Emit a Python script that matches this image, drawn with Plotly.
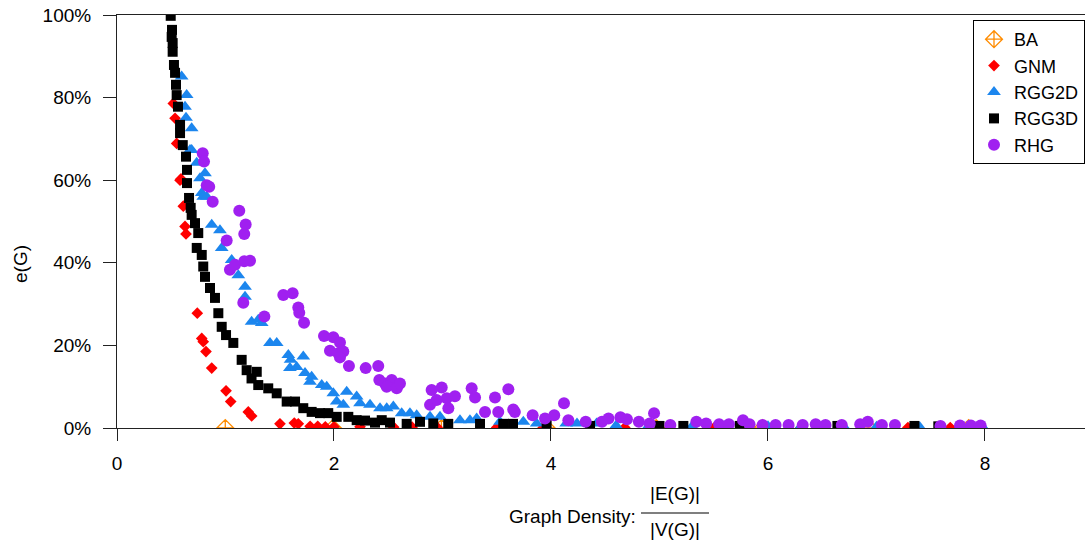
import plotly.graph_objects as go

# ---------------- data (density, e(G) in %) ----------------
ba_x = [0.998, 1.99, 2.99, 3.96, 4.97, 5.95, 6.93, 7.85]
ba_y = [0.0, 0.0, 0.0, 0.0, 0.0, 0.0, 0.0, 0.0]

gnm_x = [0.519, 0.535, 0.550, 0.581, 0.590, 0.611, 0.627, 0.636, 0.740, 0.781,
         0.795, 0.820, 0.873, 1.005, 1.048, 1.210, 1.241, 1.502, 1.634, 1.671,
         1.78, 1.85, 1.92, 2.00, 2.24, 2.55, 2.72, 2.95, 3.50, 3.93,
         4.68, 5.50, 6.30, 7.29, 7.59, 7.68, 7.77]
gnm_y = [78.6, 75.0, 68.9, 60.0, 60.3, 53.7, 48.8, 47.0, 27.8, 21.7,
         20.9, 18.5, 14.5, 9.0, 6.4, 3.9, 2.9, 1.0, 1.2, 1.0,
         0.4, 0.4, 0.3, 0.3, 0.3, 0.2, 0.2, 0.2, 0.1, 0.1,
         0.1, 0.0, 0.0, 0.1, 0.1, 0.1, 0.1]

rgg2d_x = [0.596, 0.642, 0.627, 0.636, 0.688, 0.673, 0.688, 0.735, 0.811, 0.765,
           0.781, 0.795, 0.827, 0.873, 0.949, 0.965, 1.057, 1.118, 1.180, 1.180,
           1.241, 1.302, 1.334, 1.410, 1.472, 1.579, 1.600, 1.717, 1.594, 1.656,
           1.733, 1.794, 1.779, 1.887, 1.933, 1.994, 2.117, 2.025, 2.086, 2.209,
           2.240, 2.332, 2.424, 2.486, 2.547, 2.624, 2.700, 2.762, 2.885, 2.977,
           3.161, 3.253, 3.315, 3.530, 3.745, 3.868, 4.14, 4.24, 4.42, 4.60,
           4.90, 5.30, 5.60, 6.00, 6.30, 6.70, 7.00, 7.40, 7.80, 7.98]
rgg2d_y = [85.1, 80.6, 77.8, 75.1, 72.6, 67.3, 67.3, 64.2, 61.7, 60.5,
           56.9, 56.0, 56.0, 49.2, 47.9, 43.6, 40.7, 37.0, 34.2, 31.8,
           25.7, 26.2, 25.4, 20.6, 20.6, 17.7, 16.5, 17.3, 14.5, 14.8,
           13.3, 12.4, 11.2, 10.4, 10.0, 8.4, 8.8, 6.4, 5.6, 7.6,
           6.0, 5.6, 4.8, 4.8, 5.2, 3.6, 3.6, 3.1, 2.7, 2.7,
           1.9, 1.9, 2.3, 1.5, 1.5, 1.1, 1.1, 1.1, 1.1, 0.6,
           0.5, 0.4, 0.4, 0.4, 0.3, 0.3, 0.3, 0.2, 0.2, 0.2]

rgg3d_x = [0.495, 0.507, 0.504, 0.513, 0.513, 0.525, 0.535, 0.544, 0.550, 0.562,
           0.581, 0.581, 0.606, 0.636, 0.645, 0.645, 0.664, 0.679, 0.688, 0.719,
           0.749, 0.735, 0.781, 0.795, 0.811, 0.857, 0.903, 0.934, 0.965, 1.005,
           1.072, 1.149, 1.195, 1.288, 1.240, 1.302, 1.394, 1.472, 1.564, 1.641,
           1.717, 1.794, 1.871, 1.947, 2.025, 2.132, 2.209, 2.286, 2.378, 2.440,
           2.516, 2.670, 2.793, 2.915, 3.053, 3.346, 3.560, 3.650, 3.960, 4.36,
           5.00, 5.22, 5.74, 6.64, 7.35, 7.57]
rgg3d_y = [99.8, 96.4, 94.7, 93.2, 91.1, 87.9, 86.0, 83.1, 80.6, 77.8,
           73.4, 71.4, 68.5, 65.7, 62.5, 59.3, 55.7, 53.3, 51.6, 49.6,
           47.2, 43.6, 41.9, 39.1, 36.6, 33.9, 31.5, 27.8, 24.5, 22.5,
           20.6, 16.5, 14.0, 13.6, 12.0, 10.4, 9.6, 8.4, 6.4, 6.4,
           4.8, 3.9, 3.6, 3.6, 2.7, 2.7, 1.9, 1.8, 1.3, 1.9,
           1.3, 1.0, 1.5, 1.1, 1.0, 1.0, 1.0, 1.0, 0.7, 0.5,
           0.5, 0.5, 0.5, 0.5, 0.5, 0.4]

rhg_x = [0.790, 0.802, 0.827, 0.850, 0.882, 1.011, 1.041, 1.088, 1.127, 1.164,
         1.173, 1.173, 1.186, 1.226, 1.358, 1.533, 1.619, 1.671, 1.680, 1.724,
         1.908, 1.994, 2.055, 1.963, 2.040, 2.086, 2.055, 2.138, 2.292, 2.408,
         2.418, 2.470, 2.532, 2.593, 2.486, 2.578, 2.608, 2.900, 2.993, 2.885,
         2.946, 3.039, 3.054, 3.115, 3.269, 3.300, 3.392, 3.484, 3.514, 3.607,
         3.652, 3.667, 3.831, 3.945, 4.03, 4.12, 4.16, 4.32, 4.47, 4.53,
         4.64, 4.70, 4.81, 4.91, 4.95, 5.10, 5.34, 5.43, 5.55, 5.64,
         5.77, 5.83, 5.95, 6.07, 6.19, 6.32, 6.44, 6.53, 6.68, 6.85,
         6.92, 7.05, 7.17, 7.59, 7.77, 7.87, 7.96]
rhg_y = [66.5, 64.5, 58.8, 58.4, 54.8, 45.4, 38.3, 39.5, 52.6, 30.3,
         47.0, 40.4, 49.3, 40.5, 27.0, 32.2, 32.6, 29.2, 27.9, 25.5,
         22.3, 22.0, 20.7, 18.7, 18.1, 18.5, 17.1, 15.0, 14.5, 15.0,
         11.6, 10.8, 11.6, 10.4, 10.0, 9.6, 10.8, 9.2, 9.8, 5.6,
         6.8, 7.2, 4.8, 7.7, 9.6, 7.4, 3.9, 7.4, 3.9, 9.4,
         4.5, 3.9, 3.1, 2.3, 3.1, 6.0, 1.9, 1.5, 1.5, 2.3,
         2.6, 2.1, 1.5, 1.1, 3.6, 0.7, 1.5, 1.1, 0.9, 0.9,
         1.9, 0.9, 0.7, 0.7, 0.7, 0.7, 0.9, 0.7, 0.7, 0.9,
         1.5, 0.7, 0.7, 0.5, 0.6, 0.6, 0.6]

y_ticks = [0, 20, 40, 60, 80, 100]
x_ticks = [0, 2, 4, 6, 8]

FONT = "Liberation Sans, Arial, sans-serif"
FS = 19

fig = go.Figure()
fig.add_trace(go.Scatter(x=ba_x, y=ba_y, mode="markers", name="BA",
                         marker=dict(symbol="diamond-cross-open", size=13, color="#FF8C00",
                                     line=dict(width=1.3, color="#FF8C00"))))
fig.add_trace(go.Scatter(x=gnm_x, y=gnm_y, mode="markers", name="GNM",
                         marker=dict(symbol="diamond", size=9, color="#FF0000")))
fig.add_trace(go.Scatter(x=rgg2d_x, y=rgg2d_y, mode="markers", name="RGG2D",
                         marker=dict(symbol="triangle-up", size=12, color="#1C86EE")))
fig.add_trace(go.Scatter(x=rgg3d_x, y=rgg3d_y, mode="markers", name="RGG3D",
                         marker=dict(symbol="square", size=10, color="#000000")))
fig.add_trace(go.Scatter(x=rhg_x, y=rhg_y, mode="markers", name="RHG",
                         marker=dict(symbol="circle", size=12, color="#A020F0")))

L, R, T, B = 117, 0, 15, 116
W, H = 1085, 544
pw, ph = W - L - R, H - T - B


def px(xp):
    return (xp - L) / pw


def py(yp):
    return (H - B - yp) / ph


fig.update_layout(
    width=W, height=H,
    margin=dict(l=L, r=R, t=T, b=B, autoexpand=False),
    plot_bgcolor="white", paper_bgcolor="white",
    font=dict(family=FONT, size=FS, color="black"),
    showlegend=True,
    legend=dict(x=px(973), y=py(20), xanchor="left", yanchor="top",
                bordercolor="black", borderwidth=1, bgcolor="white",
                font=dict(size=18), tracegroupgap=0),
    xaxis=dict(range=[0, 8.922], tickvals=x_ticks, ticktext=[str(v) for v in x_ticks],
               showgrid=False, zeroline=False, showline=True, linecolor="#222",
               linewidth=1, mirror=True, ticks="outside", ticklen=12, tickcolor="#222",
               ticklabelstandoff=6),
    yaxis=dict(range=[0, 100], tickvals=y_ticks, ticktext=[f"{v}%" for v in y_ticks],
               showgrid=False, zeroline=False, showline=True, linecolor="#222",
               linewidth=1, ticks="outside", ticklen=13, tickcolor="#222",
               ticklabelstandoff=8),
)

ann = [
    dict(text="e(G)", x=px(20), y=py(264), textangle=-90),
    dict(text="Graph Density:", x=px(572), y=py(516)),
    dict(text="|E(G)|", x=px(675), y=py(494)),
    dict(text="|V(G)|", x=px(675), y=py(529)),
]
for a in ann:
    fig.add_annotation(xref="paper", yref="paper", showarrow=False,
                       xanchor="center", yanchor="middle",
                       font=dict(family=FONT, size=FS, color="black"), **a)

fig.add_shape(type="line", xref="paper", yref="paper",
              x0=px(641), x1=px(709), y0=py(513), y1=py(513),
              line=dict(color="black", width=1.2))

fig.write_html("out.html", config={"displayModeBar": False},
               post_script="document.body.style.margin='0';document.body.style.overflow='hidden';")
